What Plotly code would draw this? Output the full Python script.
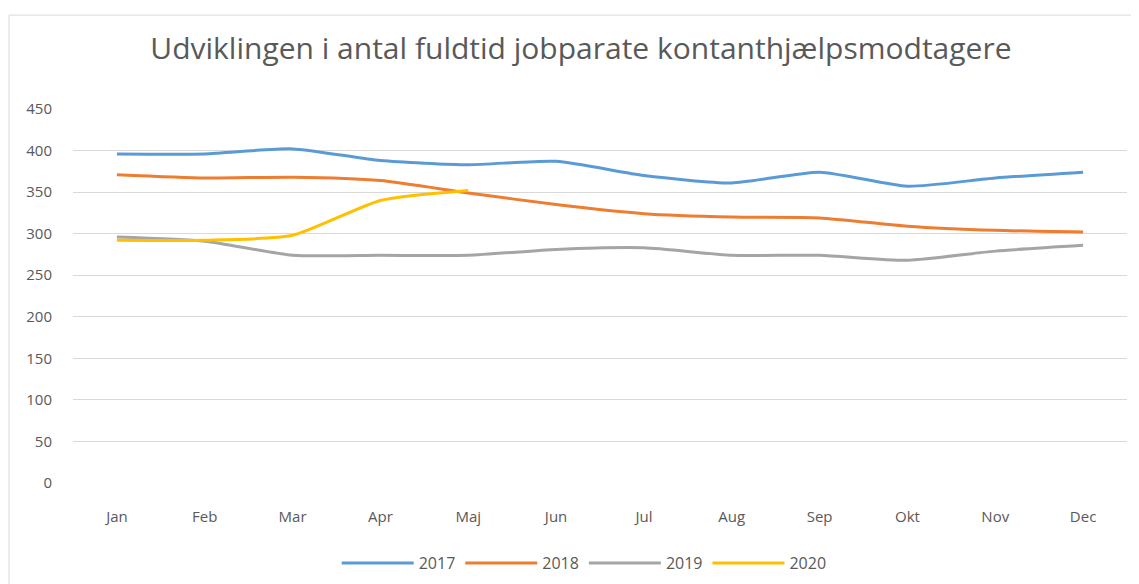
import plotly.graph_objects as go

months = ["Jan", "Feb", "Mar", "Apr", "Maj", "Jun", "Jul", "Aug", "Sep", "Okt", "Nov", "Dec"]
y2017 = [396, 396, 402, 388, 383, 387, 370, 361, 374, 357, 367, 374]
y2018 = [371, 367, 368, 364, 349, 335, 324, 320, 319, 309, 304, 302]
y2019 = [296, 291, 274, 274, 274, 281, 283, 274, 274, 268, 279, 286]
y2020 = [292, 292, 298, 340, 352]
y_ticks = [0, 50, 100, 150, 200, 250, 300, 350, 400, 450]

series = [("2017", y2017, "#5B9BD5"), ("2018", y2018, "#ED7D31"),
          ("2019", y2019, "#A5A5A5"), ("2020", y2020, "#FFC000")]

fig = go.Figure()
for name, vals, col in series:
    fig.add_trace(go.Scatter(x=months[:len(vals)], y=vals, name=name, mode="lines",
                             line=dict(color=col, width=3, shape="spline", smoothing=0.6)))

font_fam = "'Open Sans', Calibri, sans-serif"
fig.update_layout(
    width=1139, height=584,
    margin=dict(l=65, r=20, t=101, b=105),
    paper_bgcolor="white", plot_bgcolor="white",
    font=dict(family=font_fam, color="#595959", size=15),
    title=dict(text="Udviklingen i antal fuldtid jobparate kontanthjælpsmodtagere",
               x=0.503, xanchor="center", y=0.9315, yanchor="middle",
               font=dict(size=30, color="#595959", family=font_fam)),
    showlegend=True,
    legend=dict(orientation="h", x=0.485, xanchor="center", y=-0.214, yanchor="middle",
                font=dict(size=16, color="#595959"), itemwidth=72),
    xaxis=dict(type="category", range=[-0.5, 11.5], showgrid=False, showline=False,
               ticks="", tickfont=dict(size=15), zeroline=False, ticklabelstandoff=23),
    yaxis=dict(range=[0, 450], tickvals=y_ticks, showgrid=True, gridcolor="#D9D9D9",
               gridwidth=1, zeroline=False, showline=False, ticks="",
               tickfont=dict(size=15), ticklabelstandoff=20),
)
fig.add_shape(type="rect", xref="paper", yref="paper", x0=-0.0607, y0=-0.5, x1=1.2, y1=1.251,
              line=dict(color="#D9D9D9", width=1), fillcolor="rgba(0,0,0,0)", layer="below")
fig.write_html("out.html")
